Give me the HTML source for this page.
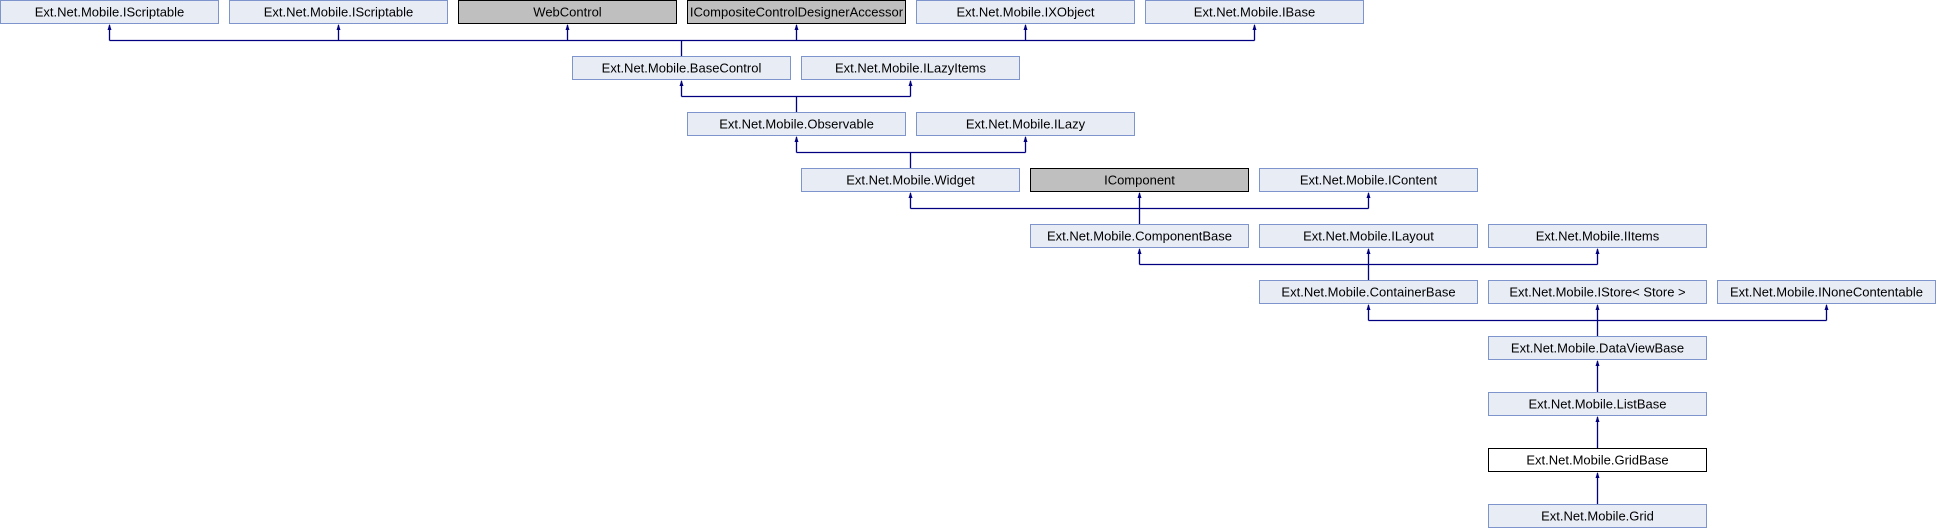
<!DOCTYPE html>
<html><head><meta charset="utf-8"><style>
html,body{margin:0;padding:0;background:#fff;}
svg{display:block;}
text{font-family:"Liberation Sans",Arial,sans-serif;font-size:13px;fill:#000;text-anchor:middle;}
</style></head><body>
<svg width="1936" height="528" viewBox="0 0 1936 528" xmlns="http://www.w3.org/2000/svg">
<defs>
<marker id="a" markerWidth="6" markerHeight="8" refX="3" refY="0" orient="auto" markerUnits="userSpaceOnUse"></marker>
</defs>
<g id="boxes" stroke-width="1">
<!-- row1 -->
<rect x="0.5" y="0.5" width="218" height="23" fill="#e8ecf5" stroke="#7d94cc"/><text x="109.5" y="16.5">Ext.Net.Mobile.IScriptable</text>
<rect x="229.5" y="0.5" width="218" height="23" fill="#e8ecf5" stroke="#7d94cc"/><text x="338.5" y="16.5">Ext.Net.Mobile.IScriptable</text>
<rect x="458.5" y="0.5" width="218" height="23" fill="#bfbfbf" stroke="#000"/><text x="567.5" y="16.5">WebControl</text>
<rect x="687.5" y="0.5" width="218" height="23" fill="#bfbfbf" stroke="#000"/><text x="796.5" y="16.5">ICompositeControlDesignerAccessor</text>
<rect x="916.5" y="0.5" width="218" height="23" fill="#e8ecf5" stroke="#7d94cc"/><text x="1025.5" y="16.5">Ext.Net.Mobile.IXObject</text>
<rect x="1145.5" y="0.5" width="218" height="23" fill="#e8ecf5" stroke="#7d94cc"/><text x="1254.5" y="16.5">Ext.Net.Mobile.IBase</text>
<!-- row2 -->
<rect x="572.5" y="56.5" width="218" height="23" fill="#e8ecf5" stroke="#7d94cc"/><text x="681.5" y="72.5">Ext.Net.Mobile.BaseControl</text>
<rect x="801.5" y="56.5" width="218" height="23" fill="#e8ecf5" stroke="#7d94cc"/><text x="910.5" y="72.5">Ext.Net.Mobile.ILazyItems</text>
<!-- row3 -->
<rect x="687.5" y="112.5" width="218" height="23" fill="#e8ecf5" stroke="#7d94cc"/><text x="796.5" y="128.5">Ext.Net.Mobile.Observable</text>
<rect x="916.5" y="112.5" width="218" height="23" fill="#e8ecf5" stroke="#7d94cc"/><text x="1025.5" y="128.5">Ext.Net.Mobile.ILazy</text>
<!-- row4 -->
<rect x="801.5" y="168.5" width="218" height="23" fill="#e8ecf5" stroke="#7d94cc"/><text x="910.5" y="184.5">Ext.Net.Mobile.Widget</text>
<rect x="1030.5" y="168.5" width="218" height="23" fill="#bfbfbf" stroke="#000"/><text x="1139.5" y="184.5">IComponent</text>
<rect x="1259.5" y="168.5" width="218" height="23" fill="#e8ecf5" stroke="#7d94cc"/><text x="1368.5" y="184.5">Ext.Net.Mobile.IContent</text>
<!-- row5 -->
<rect x="1030.5" y="224.5" width="218" height="23" fill="#e8ecf5" stroke="#7d94cc"/><text x="1139.5" y="240.5">Ext.Net.Mobile.ComponentBase</text>
<rect x="1259.5" y="224.5" width="218" height="23" fill="#e8ecf5" stroke="#7d94cc"/><text x="1368.5" y="240.5">Ext.Net.Mobile.ILayout</text>
<rect x="1488.5" y="224.5" width="218" height="23" fill="#e8ecf5" stroke="#7d94cc"/><text x="1597.5" y="240.5">Ext.Net.Mobile.IItems</text>
<!-- row6 -->
<rect x="1259.5" y="280.5" width="218" height="23" fill="#e8ecf5" stroke="#7d94cc"/><text x="1368.5" y="296.5">Ext.Net.Mobile.ContainerBase</text>
<rect x="1488.5" y="280.5" width="218" height="23" fill="#e8ecf5" stroke="#7d94cc"/><text x="1597.5" y="296.5">Ext.Net.Mobile.IStore&lt; Store &gt;</text>
<rect x="1717.5" y="280.5" width="218" height="23" fill="#e8ecf5" stroke="#7d94cc"/><text x="1826.5" y="296.5">Ext.Net.Mobile.INoneContentable</text>
<!-- rows 7-10 -->
<rect x="1488.5" y="336.5" width="218" height="23" fill="#e8ecf5" stroke="#7d94cc"/><text x="1597.5" y="352.5">Ext.Net.Mobile.DataViewBase</text>
<rect x="1488.5" y="392.5" width="218" height="23" fill="#e8ecf5" stroke="#7d94cc"/><text x="1597.5" y="408.5">Ext.Net.Mobile.ListBase</text>
<rect x="1488.5" y="448.5" width="218" height="23" fill="#ffffff" stroke="#000"/><text x="1597.5" y="464.5">Ext.Net.Mobile.GridBase</text>
<rect x="1488.5" y="504.5" width="218" height="23" fill="#e8ecf5" stroke="#7d94cc"/><text x="1597.5" y="520.5">Ext.Net.Mobile.Grid</text>
</g>
<g stroke="#000080" stroke-width="1.3" fill="none">
<!-- hub 1 -->
<path d="M109.5 40.5H1254.5 M681.5 40.5V56 M109.5 40.5V25 M338.5 40.5V25 M567.5 40.5V25 M796.5 40.5V25 M1025.5 40.5V25 M1254.5 40.5V25"/>
<!-- hub 2 -->
<path d="M681.5 96.5H910.5 M796.5 96.5V112 M681.5 96.5V81 M910.5 96.5V81"/>
<!-- hub 3 -->
<path d="M796.5 152.5H1025.5 M910.5 152.5V168 M796.5 152.5V137 M1025.5 152.5V137"/>
<!-- hub 4 -->
<path d="M910.5 208.5H1368.5 M1139.5 208.5V224 M910.5 208.5V193 M1139.5 208.5V193 M1368.5 208.5V193"/>
<!-- hub 5 -->
<path d="M1139.5 264.5H1597.5 M1368.5 264.5V280 M1139.5 264.5V249 M1368.5 264.5V249 M1597.5 264.5V249"/>
<!-- hub 6 -->
<path d="M1368.5 320.5H1826.5 M1597.5 320.5V336 M1368.5 320.5V305 M1597.5 320.5V305 M1826.5 320.5V305"/>
<path d="M1597.5 392V361 M1597.5 448V417 M1597.5 504V473"/>
</g>
<g fill="#000080">
<path d="M107.5 30L109.5 24L111.5 30Z"/><path d="M336.5 30L338.5 24L340.5 30Z"/><path d="M565.5 30L567.5 24L569.5 30Z"/><path d="M794.5 30L796.5 24L798.5 30Z"/><path d="M1023.5 30L1025.5 24L1027.5 30Z"/><path d="M1252.5 30L1254.5 24L1256.5 30Z"/>
<path d="M679.5 86L681.5 80L683.5 86Z"/><path d="M908.5 86L910.5 80L912.5 86Z"/>
<path d="M794.5 142L796.5 136L798.5 142Z"/><path d="M1023.5 142L1025.5 136L1027.5 142Z"/>
<path d="M908.5 198L910.5 192L912.5 198Z"/><path d="M1137.5 198L1139.5 192L1141.5 198Z"/><path d="M1366.5 198L1368.5 192L1370.5 198Z"/>
<path d="M1137.5 254L1139.5 248L1141.5 254Z"/><path d="M1366.5 254L1368.5 248L1370.5 254Z"/><path d="M1595.5 254L1597.5 248L1599.5 254Z"/>
<path d="M1366.5 310L1368.5 304L1370.5 310Z"/><path d="M1595.5 310L1597.5 304L1599.5 310Z"/><path d="M1824.5 310L1826.5 304L1828.5 310Z"/>
<path d="M1595.5 366L1597.5 360L1599.5 366Z"/><path d="M1595.5 422L1597.5 416L1599.5 422Z"/><path d="M1595.5 478L1597.5 472L1599.5 478Z"/>
</g>
</svg>
</body></html>
